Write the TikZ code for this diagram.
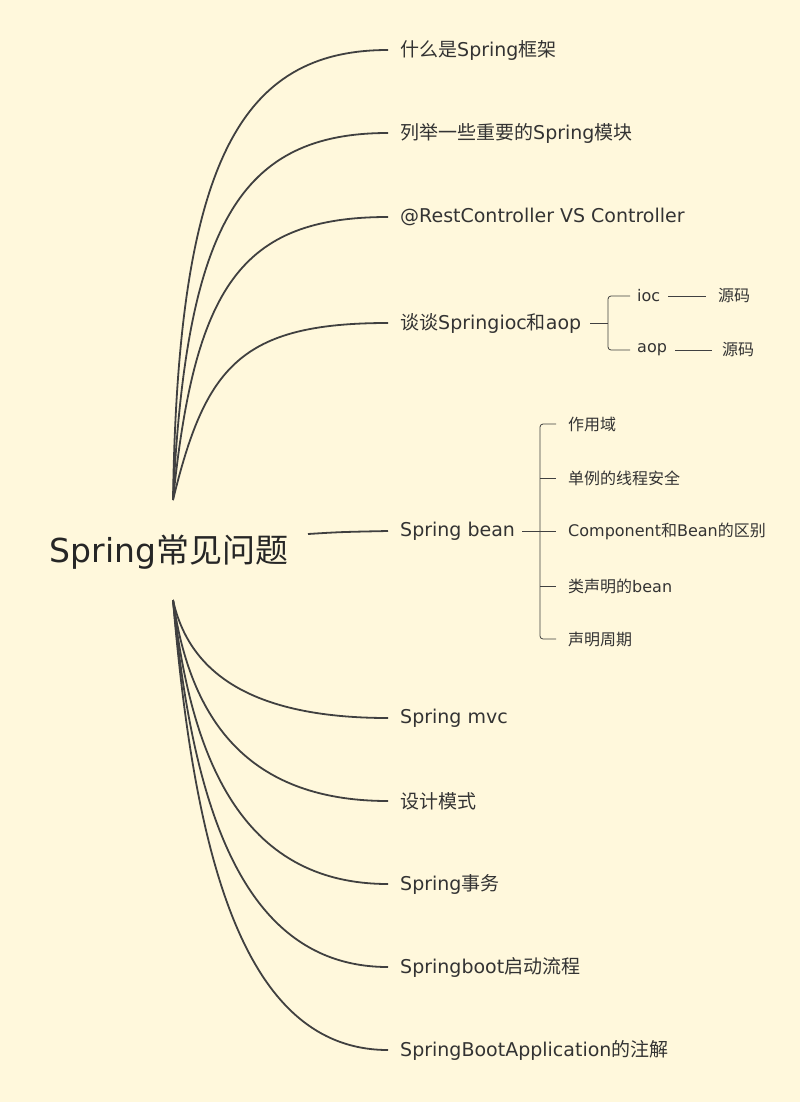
\documentclass[tikz,border=0pt]{standalone}
\usepackage{fontspec}
\setmainfont{DejaVu Sans}
\newfontfamily\cjk{Noto Sans CJK SC}
\newcommand{\zh}[1]{{\cjk #1}}
\begin{document}
\begin{tikzpicture}[x=1pt,y=-1pt,
  ln/.style={draw=black!75,line width=1.8pt},
  sl/.style={draw=black!75,line width=0.8pt},
  br/.style={anchor=west,inner sep=0pt,font=\fontsize{19}{20}\selectfont,text=black!80},
  sb/.style={anchor=west,inner sep=0pt,font=\fontsize{16}{17}\selectfont,text=black!80}]
\fill[fill={rgb,255:red,255;green,248;blue,220}] (0,0) rectangle (800,1102);
\useasboundingbox (0,0) rectangle (800,1102);
\node[anchor=center,inner sep=0pt,font=\fontsize{33}{34}\selectfont,text=black!85] (root) at (169,552) {Spring\zh{常见问题}};
\coordinate (t) at (173,500);
\coordinate (b) at (173,600);
\coordinate (m) at (308,534);
\foreach \n/\y/\txt in {a/50/\zh{什么是}Spring\zh{框架}, b1/133/\zh{列举一些重要的}Spring\zh{模块}, c/217/@RestController VS Controller, d/323/\zh{谈谈}Springioc\zh{和}aop}{
  \node[br] (\n) at (400,\y) {\txt};
  \coordinate (\n e) at (388,\y);
  \draw[ln] (t) .. controls (173+0.1*\y,\y+0.25*500-0.25*\y) and (240,\y) .. (\n e);
}
\foreach \n/\y/\txt in {f/718/Spring mvc, g/801/\zh{设计模式}, h/884/Spring\zh{事务}, i/967/Springboot\zh{启动流程}, j/1050/SpringBootApplication\zh{的注解}}{
  \node[br] (\n) at (400,\y) {\txt};
  \coordinate (\n e) at (388,\y);
  \draw[ln] (b) .. controls (173+0.02*\y,600+0.55*\y-330) and (240,\y) .. (\n e);
}
\node[br] (e) at (400,531) {Spring bean};
\coordinate (ee) at (388,531);
\draw[ln] (m) .. controls (340,532) .. (ee);
% ioc / aop
\coordinate (d1) at (590,323); \coordinate (d2) at (608,323);
\draw[sl] (d1) -- (d2);
\draw[sl,rounded corners=3pt] (630,296) -- (608,296) -- (608,350) -- (630,350);
\node[sb] (ioc) at (637,296) {ioc};
\node[sb] (aop) at (637,350) {aop};
\node[sb] (s1) at (718,296) {\zh{源码}};
\node[sb] (s2) at (722,350) {\zh{源码}};
\draw[sl] (668,296) -- (706,296);
\draw[sl] (675,350) -- (712,350);
% bean
\draw[sl] (522,531) -- (556,531);
\draw[sl,rounded corners=3pt] (556,424) -- (540,424) -- (540,639) -- (556,639);
\foreach \y in {478,586} \draw[sl] (540,\y) -- (556,\y);
\node[sb] (k1) at (568,424) {\zh{作用域}};
\node[sb] (k2) at (568,478) {\zh{单例的线程安全}};
\node[sb] (k3) at (568,531) {Component\zh{和}Bean\zh{的区别}};
\node[sb] (k4) at (568,586) {\zh{类声明的}bean};
\node[sb] (k5) at (568,639) {\zh{声明周期}};
\end{tikzpicture}
\end{document}
